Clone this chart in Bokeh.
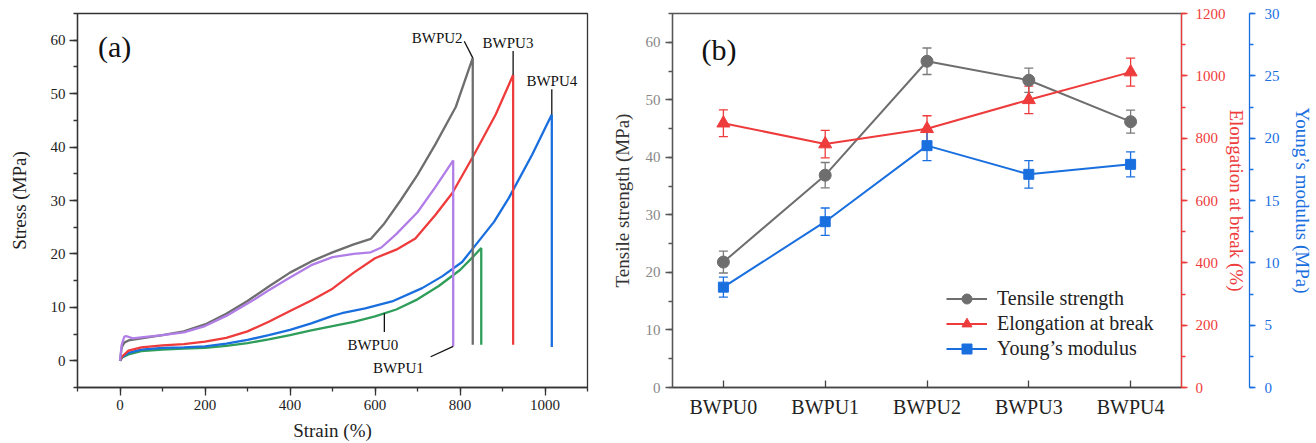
from bokeh.plotting import figure
from bokeh.models import (Range1d, FactorRange, LinearAxis, Label, Whisker, ColumnDataSource,
                          Legend, LegendItem, SingleIntervalTicker, FixedTicker, TeeHead)
from bokeh.layouts import row
from bokeh.embed import file_html
from bokeh.resources import INLINE

FONT = "Liberation Serif"

# ---------------- data: panel (a) stress-strain curves ----------------
bwpu0_strain = [0, 5, 20, 50, 100, 150, 200, 250, 300, 350, 400, 450, 500, 550, 600, 650, 700, 750, 800, 830, 850, 850]
bwpu0_stress = [0, 0.6, 1.2, 1.8, 2.1, 2.3, 2.4, 2.8, 3.3, 4.0, 4.8, 5.7, 6.5, 7.3, 8.3, 9.6, 11.5, 14.0, 17.0, 19.4, 21.1, 3.0]

bwpu1_strain = [0, 4, 10, 16, 30, 50, 100, 150, 200, 250, 300, 350, 400, 450, 500, 550, 590, 615, 650, 700, 742, 784, 784]
bwpu1_stress = [0, 3.0, 4.5, 4.6, 4.2, 4.4, 4.8, 5.3, 6.5, 8.4, 10.7, 13.2, 15.6, 17.9, 19.4, 20.0, 20.3, 21.2, 23.7, 27.8, 32.5, 37.5, 2.7]

bwpu2_strain = [0, 4, 10, 20, 50, 100, 150, 200, 250, 300, 350, 400, 450, 500, 550, 590, 620, 660, 700, 742, 790, 830, 830]
bwpu2_stress = [0, 2.5, 3.4, 3.8, 4.2, 4.8, 5.5, 6.8, 8.8, 11.2, 13.9, 16.5, 18.6, 20.3, 21.8, 22.8, 25.5, 30.0, 34.8, 40.5, 47.5, 56.7, 3.0]

bwpu3_strain = [0, 5, 20, 50, 100, 150, 200, 250, 300, 350, 400, 450, 500, 550, 600, 650, 695, 742, 782, 829, 884, 925, 925]
bwpu3_stress = [0, 0.8, 1.9, 2.5, 2.9, 3.1, 3.6, 4.3, 5.5, 7.3, 9.3, 11.3, 13.5, 16.5, 19.2, 20.8, 22.9, 27.3, 31.4, 38.0, 46.1, 53.5, 3.0]

bwpu4_strain = [0, 5, 20, 50, 100, 150, 200, 250, 300, 350, 400, 450, 500, 522, 577, 640, 711, 758, 805, 837, 880, 915, 970, 1016, 1016]
bwpu4_stress = [0, 0.7, 1.5, 2.1, 2.4, 2.5, 2.7, 3.2, 3.9, 4.8, 5.8, 7.0, 8.4, 8.9, 9.8, 11.1, 13.6, 15.8, 18.5, 21.7, 26.0, 30.5, 38.6, 46.1, 2.6]

# ---------------- data: panel (b) ----------------
samples = ["BWPU0", "BWPU1", "BWPU2", "BWPU3", "BWPU4"]
tensile = [21.8, 36.9, 56.7, 53.4, 46.2]
tensile_err = [1.9, 2.2, 2.3, 2.1, 2.0]
elongation = [848, 781, 830, 923, 1012]
elongation_err = [43, 44, 42, 44, 45]
modulus = [8.05, 13.3, 19.4, 17.1, 17.9]
modulus_err = [0.8, 1.1, 1.2, 1.1, 1.0]

GRAY = "#6e6e6e"
RED = "#ee3b3b"
BLUE = "#1a6fdf"
GREEN = "#2f9e5a"
PURPLE = "#b07ee6"
DARK = "#333333"


def style_axis(ax, label_color="#222222", line_color=DARK, title_color="#222222"):
    ax.major_label_text_font = FONT
    ax.major_label_text_font_size = "15px"
    ax.major_label_text_color = label_color
    ax.axis_label_text_font = FONT
    ax.axis_label_text_font_size = "19px"
    ax.axis_label_text_font_style = "normal"
    ax.axis_label_text_color = title_color
    ax.axis_line_color = line_color
    ax.axis_line_width = 1.3
    ax.major_tick_line_color = line_color
    ax.minor_tick_line_color = line_color
    ax.major_tick_line_width = 1.3
    ax.minor_tick_line_width = 1.3


# ================= Panel (a) =================
p1 = figure(width=608, height=443, x_range=Range1d(-100, 1100), y_range=Range1d(-5, 65),
            output_backend="svg", toolbar_location=None,
            min_border_left=77, min_border_right=21, min_border_top=13, min_border_bottom=56)
p1.xgrid.visible = False
p1.ygrid.visible = False
p1.outline_line_color = DARK
p1.outline_line_width = 1.3
p1.background_fill_color = "white"

p1.xaxis.ticker = SingleIntervalTicker(interval=200, num_minor_ticks=2)
p1.yaxis.ticker = SingleIntervalTicker(interval=10, num_minor_ticks=2)
for ax in (p1.xaxis[0], p1.yaxis[0]):
    style_axis(ax)
    ax.major_tick_out = 8
    ax.major_tick_in = 0
    ax.minor_tick_out = 4
    ax.minor_tick_in = 0
    ax.major_label_standoff = 4
p1.xaxis.axis_label = "Strain (%)"
p1.yaxis.axis_label = "Stress (MPa)"
p1.xaxis.axis_label_standoff = 7
p1.yaxis.axis_label_standoff = 18

curves = [
    (bwpu0_strain, bwpu0_stress, GREEN),
    (bwpu4_strain, bwpu4_stress, BLUE),
    (bwpu3_strain, bwpu3_stress, RED),
    (bwpu2_strain, bwpu2_stress, GRAY),
    (bwpu1_strain, bwpu1_stress, PURPLE),
]
for xs, ys, c in curves:
    p1.line(xs, ys, line_color=c, line_width=2.3)

# leader lines (anchored on the curves' break points)
lead_x0 = [bwpu2_strain[-1] - 20, bwpu3_strain[-1], bwpu4_strain[-1], 622, bwpu1_strain[-1] - 53]
lead_y0 = [bwpu2_stress[-2] + 3.1, bwpu3_stress[-2] + 4.5, bwpu4_stress[-2] + 4.7, 5.4, 0.75]
lead_x1 = [bwpu2_strain[-1], bwpu3_strain[-1], bwpu4_strain[-1], 622, bwpu1_strain[-1]]
lead_y1 = [bwpu2_stress[-2], bwpu3_stress[-2], bwpu4_stress[-2], 8.9, bwpu1_stress[-1]]
p1.segment(lead_x0, lead_y0, lead_x1, lead_y1, line_color="#111111", line_width=1.3)

for txt, x, y, align in [("BWPU2", 806, 60.4, "right"), ("BWPU3", 913, 59.5, "center"),
                         ("BWPU4", 1016, 52.3, "center"), ("BWPU0", 595, 3.0, "center"),
                         ("BWPU1", 655, -1.4, "center")]:
    p1.add_layout(Label(x=x, y=y, text=txt, text_font=FONT, text_font_size="15px",
                        text_align=align, text_baseline="middle", text_color="#111111"))

p1.add_layout(Label(x=-52, y=58.9, text="(a)", text_font=FONT, text_font_size="30px",
                    text_align="left", text_baseline="middle", text_color="#111111"))

# ================= Panel (b) =================
p2 = figure(width=708, height=443, x_range=FactorRange(factors=samples, range_padding=0),
            y_range=Range1d(0, 65), output_backend="svg", toolbar_location=None,
            min_border_left=63, min_border_right=135, min_border_top=13, min_border_bottom=56)
p2.xgrid.visible = False
p2.ygrid.visible = False
p2.outline_line_color = "#555555"
p2.outline_line_width = 1.3
p2.extra_y_ranges = {"elong": Range1d(0, 1200), "young": Range1d(0, 30)}

# left axis
ly = p2.yaxis[0]
style_axis(ly, label_color="#888888", line_color="#555555", title_color="#333333")
ly.ticker = SingleIntervalTicker(interval=10, num_minor_ticks=2)
ly.major_tick_out = 7
ly.major_tick_in = 0
ly.minor_tick_out = 4
ly.minor_tick_in = 0
ly.major_label_standoff = 5
ly.axis_label_standoff = 10
ly.axis_label = "Tensile strength (MPa)"

# bottom axis
bx = p2.xaxis[0]
style_axis(bx, label_color="#222222", line_color="#444444")
bx.major_label_text_font_size = "20px"
bx.major_tick_in = 7
bx.major_tick_out = 0
bx.major_label_standoff = 8

# right axes
red_ax = LinearAxis(y_range_name="elong", axis_label="Elongation at break (%)",
                    ticker=SingleIntervalTicker(interval=200, num_minor_ticks=2))
style_axis(red_ax, label_color=RED, line_color=RED, title_color=RED)
red_ax.major_tick_out = 6
red_ax.major_tick_in = 0
red_ax.minor_tick_out = 4
red_ax.minor_tick_in = 0
red_ax.major_label_standoff = 8
red_ax.axis_label_standoff = -3
p2.add_layout(red_ax, "right")

# invisible spacer between the two right-hand axes
spacer_ax = LinearAxis(y_range_name="young", ticker=FixedTicker(ticks=[]),
                       axis_line_color=None, major_tick_line_color=None, minor_tick_line_color=None,
                       major_tick_out=17, minor_tick_out=0, major_label_standoff=0)
p2.add_layout(spacer_ax, "right")

blue_ax = LinearAxis(y_range_name="young", axis_label="Young\u2019s modulus (MPa)",
                     ticker=SingleIntervalTicker(interval=5, num_minor_ticks=2))
style_axis(blue_ax, label_color=BLUE, line_color=BLUE, title_color=BLUE)
blue_ax.major_tick_out = 6
blue_ax.major_tick_in = 0
blue_ax.minor_tick_out = 4
blue_ax.minor_tick_in = 0
blue_ax.major_label_standoff = 9
blue_ax.axis_label_standoff = 9
p2.add_layout(blue_ax, "right")

src_t = ColumnDataSource(dict(x=samples, y=tensile,
                              lo=[v - e for v, e in zip(tensile, tensile_err)],
                              up=[v + e for v, e in zip(tensile, tensile_err)]))
src_e = ColumnDataSource(dict(x=samples, y=elongation,
                              lo=[v - e for v, e in zip(elongation, elongation_err)],
                              up=[v + e for v, e in zip(elongation, elongation_err)]))
src_m = ColumnDataSource(dict(x=samples, y=modulus,
                              lo=[v - e for v, e in zip(modulus, modulus_err)],
                              up=[v + e for v, e in zip(modulus, modulus_err)]))


def whisk(src, color, rng="default"):
    w = Whisker(source=src, base="x", upper="up", lower="lo", dimension="height",
                line_color=color, line_width=1.3, y_range_name=rng,
                upper_head=TeeHead(size=9, line_color=color, line_width=1.3),
                lower_head=TeeHead(size=9, line_color=color, line_width=1.3))
    p2.add_layout(w)


whisk(src_t, "#7a7a7a")
whisk(src_e, RED, "elong")
whisk(src_m, BLUE, "young")

l_t = p2.line("x", "y", source=src_t, line_color=GRAY, line_width=2)
s_t = p2.scatter("x", "y", source=src_t, marker="circle", size=12, fill_color=GRAY, line_color=GRAY)
l_e = p2.line("x", "y", source=src_e, line_color=RED, line_width=2, y_range_name="elong")
s_e = p2.scatter("x", "y", source=src_e, marker="triangle", size=13, fill_color=RED, line_color=RED,
                 y_range_name="elong")
l_m = p2.line("x", "y", source=src_m, line_color=BLUE, line_width=2, y_range_name="young")
s_m = p2.scatter("x", "y", source=src_m, marker="square", size=10, fill_color=BLUE, line_color=BLUE,
                 y_range_name="young")

legend = Legend(items=[LegendItem(label="Tensile strength", renderers=[l_t, s_t]),
                       LegendItem(label="Elongation at break", renderers=[l_e, s_e]),
                       LegendItem(label="Young\u2019s modulus", renderers=[l_m, s_m])],
                location=(274, 26), orientation="vertical",
                background_fill_alpha=0, border_line_color=None,
                label_text_font=FONT, label_text_font_size="20px", label_text_color="#222222",
                glyph_width=41, glyph_height=25, label_height=25, label_standoff=10,
                spacing=0, padding=0, margin=0)
p2.add_layout(legend)

p2.add_layout(Label(x=29, y=338, x_units="screen", y_units="screen", text="(b)", text_font=FONT,
                    text_font_size="30px", text_align="left", text_baseline="middle",
                    text_color="#111111"))

layout = row(p1, p2)
open("out.html", "w").write(file_html(layout, INLINE))
